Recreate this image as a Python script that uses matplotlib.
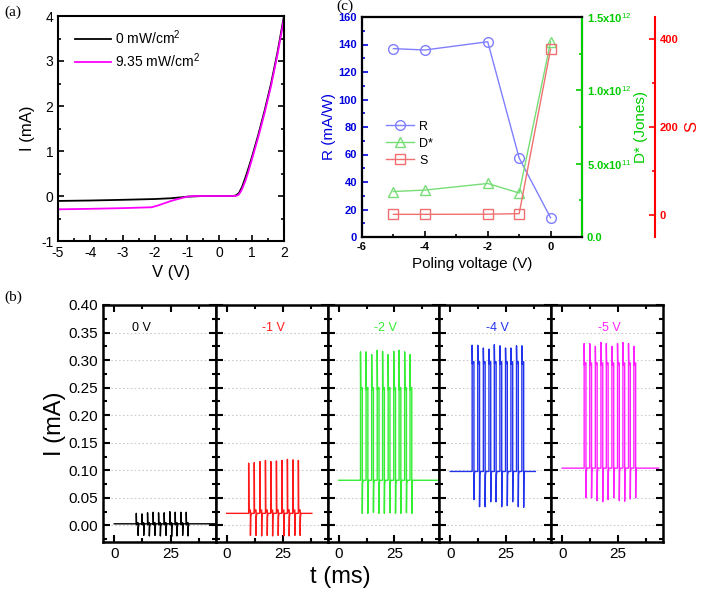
import numpy as np
import matplotlib.pyplot as plt
from matplotlib.ticker import MultipleLocator, FixedLocator, FormatStrFormatter

plt.rcParams['font.family'] = ['Liberation Sans', 'DejaVu Sans']
plt.rcParams['mathtext.fontset'] = 'custom'
plt.rcParams['mathtext.rm'] = 'Liberation Sans'
plt.rcParams['axes.unicode_minus'] = False

# ---- (a) I-V curves ----
v_dark = [-5, -4, -3, -2, -1.5, -1.2, -1.0, -0.5, 0, 0.4, 0.5, 0.6, 0.7, 0.8, 0.9, 1.0, 1.2, 1.4, 1.6, 1.8, 2.0]
i_dark = [-0.11, -0.10, -0.085, -0.067, -0.05, -0.03, -0.015, 0.0, 0.0, 0.0, 0.01, 0.06, 0.2, 0.4, 0.62, 0.85, 1.35, 1.9, 2.5, 3.2, 4.0]
v_light = [-5, -4, -3, -2.1, -1.9, -1.7, -1.5, -1.3, -1.0, -0.8, 0, 0.4, 0.5, 0.6, 0.7, 0.8, 0.9, 1.0, 1.2, 1.4, 1.6, 1.8, 2.0]
i_light = [-0.296, -0.285, -0.27, -0.25, -0.21, -0.16, -0.11, -0.07, -0.015, 0.0, 0.0, 0.0, 0.0, 0.03, 0.15, 0.33, 0.55, 0.8, 1.3, 1.85, 2.45, 3.15, 3.95]

# ---- (c) figures of merit vs poling voltage ----
poling_v = [-5, -4, -2, -1, 0]
resp = [137, 136, 142, 57.5, 14]
dstar = [3.1e11, 3.2e11, 3.65e11, 3.0e11, 1.33e12]
sens = [1.5, 1.5, 1.8, 3.0, 377]

# ---- (b) pulse responses ----
panel_labels = ['0 V', '-1 V', '-2 V', '-4 V', '-5 V']
panel_colors = ['black', '#ff1a1a', '#33ee33', '#2233ee', '#ff22ff']
pulse_on = [9.8, 12.3, 14.8, 17.3, 19.7, 22.2, 24.7, 27.1, 29.6, 32.0]
pulse_len = 0.8
t_end = [44.5, 38, 44.5, 38, 43]
baseline = [0.003, 0.022, 0.082, 0.098, 0.104]
plateau = [0.005, 0.028, 0.25, 0.297, 0.295]
peaks = [
    [0.022, 0.021, 0.023, 0.024, 0.023, 0.023, 0.025, 0.024, 0.024, 0.024],
    [0.113, 0.114, 0.116, 0.118, 0.116, 0.117, 0.118, 0.120, 0.119, 0.118],
    [0.315, 0.315, 0.310, 0.318, 0.316, 0.310, 0.316, 0.318, 0.315, 0.310],
    [0.327, 0.327, 0.322, 0.320, 0.328, 0.326, 0.322, 0.322, 0.326, 0.326],
    [0.330, 0.330, 0.325, 0.332, 0.330, 0.325, 0.330, 0.332, 0.330, 0.325],
]
troughs = [
    [-0.018, -0.018, -0.019, -0.018, -0.019, -0.018, -0.020, -0.019, -0.018, -0.019],
    [-0.018, -0.018, -0.019, -0.018, -0.019, -0.018, -0.019, -0.019, -0.018, -0.018],
    [0.022, 0.022, 0.024, 0.022, 0.022, 0.023, 0.022, 0.022, 0.023, 0.022],
    [0.047, 0.034, 0.034, 0.043, 0.043, 0.034, 0.036, 0.043, 0.034, 0.033],
    [0.050, 0.050, 0.045, 0.043, 0.047, 0.050, 0.045, 0.044, 0.048, 0.050],
]


def pulse_trace(base, plat, pk, tr, tmax):
    t, y = [0.0], [base]
    for ton, p, q in zip(pulse_on, pk, tr):
        toff = ton + pulse_len
        t += [ton, ton, ton + 0.12, ton + 0.3, toff, toff, toff + 0.12, toff + 0.4]
        y += [base, p, plat - 0.004, plat, plat, q, base - 0.006, base]
    t.append(tmax)
    y.append(base)
    return t, y


fig = plt.figure(figsize=(7.02, 5.98), dpi=100)
W, H = 702.0, 598.0


def box(l, r, t, b):
    return [l / W, 1 - b / H, (r - l) / W, (b - t) / H]


# ---------- (a) ----------
axa = fig.add_axes(box(58, 284, 16, 241))
axa.plot(v_dark, i_dark, color='black', lw=1.3, label='0 mW/cm$^2$')
axa.plot(v_light, i_light, color='#ff00ff', lw=1.3, label='9.35 mW/cm$^2$')
axa.set_xlim(-5, 2)
axa.set_ylim(-1, 4)
axa.xaxis.set_major_locator(MultipleLocator(1))
axa.xaxis.set_minor_locator(MultipleLocator(0.5))
axa.yaxis.set_major_locator(MultipleLocator(1))
axa.yaxis.set_minor_locator(MultipleLocator(0.5))
axa.tick_params(which='both', direction='in', right=True, labelsize=10, width=1.2)
axa.tick_params(which='major', length=4)
axa.tick_params(which='minor', length=2.5)
for s in axa.spines.values():
    s.set_linewidth(1.5)
axa.set_xlabel('V (V)', fontsize=12)
axa.set_ylabel('I (mA)', fontsize=12)
axa.legend(loc='upper left', bbox_to_anchor=(0.02, 1.0), frameon=False, fontsize=10,
           handlelength=2.6, handletextpad=0.3, labelspacing=0.3)

# ---------- (c) ----------
axc = fig.add_axes(box(362, 582, 17, 237))
axd = axc.twinx()
axs = axc.twinx()
axs.spines['right'].set_position(('axes', 1.332))
blue, green, red = '#0000dd', '#00cc00', '#ff0000'

l1, = axc.plot(poling_v, resp, color='#7f7fff', lw=1, marker='o', ms=7, mfc='none', mew=1, label='R')
l2, = axd.plot(poling_v, dstar, color='#77dd77', lw=1, marker='^', ms=7, mfc='none', mew=1, label='D*')
l3, = axs.plot(poling_v, sens, color='#f07070', lw=1, marker='s', ms=7, mfc='none', mew=1, label='S')

axc.set_xlim(-6, 1)
axc.set_ylim(0, 160)
axd.set_ylim(0, 1.5e12)
axs.set_ylim(-50, 450)
axc.xaxis.set_major_locator(FixedLocator([-6, -4, -2, 0]))
axc.xaxis.set_minor_locator(FixedLocator([-5, -3, -1]))
axc.yaxis.set_major_locator(MultipleLocator(20))
axc.yaxis.set_minor_locator(MultipleLocator(10))
axd.yaxis.set_major_locator(FixedLocator([0, 5e11, 1e12, 1.5e12]))
axd.yaxis.set_minor_locator(MultipleLocator(2.5e11))
axd.set_yticklabels(['0.0', '5.0x10$^{11}$', '1.0x10$^{12}$', '1.5x10$^{12}$'])
axs.yaxis.set_major_locator(FixedLocator([0, 200, 400]))
axs.yaxis.set_minor_locator(FixedLocator([100, 300]))

for a in (axc, axd, axs):
    for s in a.spines.values():
        s.set_linewidth(1.5)
axc.spines['left'].set_color(blue)
axd.spines['right'].set_color(green)
axs.spines['right'].set_color(red)
axc.tick_params(axis='x', which='both', direction='in', labelsize=8, width=1.2)
axc.tick_params(axis='y', which='both', direction='in', colors=blue, labelsize=8, width=1.2)
axd.tick_params(axis='y', which='both', direction='in', colors=green, labelsize=8, width=1.2)
axs.tick_params(axis='y', which='both', direction='in', colors=red, labelsize=8, width=1.2)
for a in (axc, axd, axs):
    a.tick_params(which='major', length=4)
    a.tick_params(which='minor', length=2.5)
    for lab in a.get_yticklabels():
        lab.set_fontweight('bold')
for lab in axc.get_xticklabels():
    lab.set_fontweight('bold')

axc.set_xlabel('Poling voltage (V)', fontsize=11)
axc.set_ylabel('R (mA/W)', fontsize=11, color=blue, labelpad=2)
axd.set_ylabel('D* (Jones)', fontsize=11, color=green, labelpad=2)
axs.set_ylabel('S', fontsize=12, color=red, labelpad=4)
axc.legend(handles=[l1, l2, l3], loc='upper left', bbox_to_anchor=(0.06, 0.58), frameon=False,
           fontsize=9, handlelength=2.2, handletextpad=0.4, labelspacing=0.4)

# ---------- (b) ----------
edges = [103, 215.5, 327.5, 439, 551, 663]
label_x = [12, 21, 21, 21, 21]
axes_b = []
for k in range(5):
    ax = fig.add_axes(box(edges[k], edges[k + 1], 305, 542))
    t, y = pulse_trace(baseline[k], plateau[k], peaks[k], troughs[k], t_end[k])
    ax.plot(t, y, color=panel_colors[k], lw=1)
    ax.set_xlim(-5, 45)
    ax.set_ylim(-0.03, 0.40)
    ax.xaxis.set_major_locator(FixedLocator([0, 25]))
    ax.xaxis.set_minor_locator(FixedLocator([12.5, 37.5]))
    ax.yaxis.set_major_locator(MultipleLocator(0.05))
    ax.yaxis.set_minor_locator(MultipleLocator(0.025))
    ax.yaxis.set_major_formatter(FormatStrFormatter('%.2f'))
    ax.grid(axis='y', which='major', color='#cccccc', linestyle=(0, (1.5, 2)), lw=0.8)
    ax.set_axisbelow(True)
    ax.tick_params(which='both', direction='in', top=True, right=True, labelsize=11, width=1.5)
    ax.tick_params(which='major', length=5)
    ax.tick_params(which='minor', length=3)
    if k > 0:
        ax.tick_params(labelleft=False)
    for s in ax.spines.values():
        s.set_linewidth(1.8)
    ax.text(label_x[k], 0.358, panel_labels[k], color=panel_colors[k], fontsize=9,
            ha='center', va='center')
    axes_b.append(ax)
axes_b[0].set_ylabel('I (mA)', fontsize=17, labelpad=2)
fig.text(340 / W, 1 - 577 / H, 't (ms)', fontsize=17, ha='center', va='center')

# panel letters
for txt, x, y in [('(a)', 4, 12), ('(b)', 4, 297), ('(c)', 336, 6)]:
    fig.text(x / W, 1 - y / H, txt, fontsize=11, family='Liberation Serif', va='center')

fig.savefig('out.png', dpi=100)
